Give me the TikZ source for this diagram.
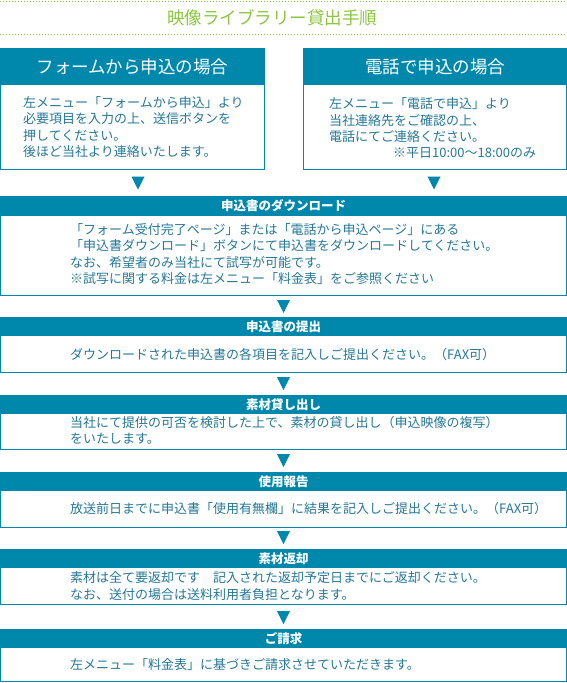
\documentclass[tikz,border=0pt]{standalone}
\usepackage{fontspec}
\setmainfont{Noto Sans CJK JP}
\usetikzlibrary{calc}
\definecolor{hd}{RGB}{0,136,172}
\definecolor{tx}{RGB}{38,120,150}
\definecolor{gr}{RGB}{140,198,63}
\tikzset{
  bodybox/.style={draw=hd, line width=1pt, fill=white, inner sep=0pt, outer sep=0pt},
  hdr/.style={fill=hd, text=white, inner sep=0pt, outer sep=0pt, font=\bfseries\fontsize{12.5}{14}\selectfont},
  bighdr/.style={fill=hd, text=white, inner sep=0pt, outer sep=0pt, font=\fontsize{17.5}{20}\selectfont},
  body/.style={text=tx, anchor=base west, align=left, inner sep=0pt, font=\fontsize{13}{16.5}\selectfont},
  tri/.style={fill=hd},
  dotline/.style={draw=gr, line width=1pt, dash pattern=on 1pt off 2pt}
}
\newcommand{\downtri}[1]{\fill[tri] ($(#1)+(-6.5,0)$) -- ($(#1)+(6.5,0)$) -- ($(#1)+(0,13)$) -- cycle;}
\begin{document}
\begin{tikzpicture}[x=1pt,y=-1pt]
\useasboundingbox (0,0) rectangle (567,683);
% title
\draw[dotline] (0,1) -- (567,1);
\draw[dotline] (0,34.5) -- (567,34.5);
\node[text=gr, inner sep=0pt, font=\fontsize{17.5}{20}\selectfont] (title) at (272,18) {映像ライブラリー貸出手順};

% top left box (base anchor = last line baseline)
\node[bodybox, minimum width=264pt, minimum height=121pt] (b1) at (132.5,109) {};
\node[bighdr, minimum width=265pt, minimum height=37pt] (h1) at (132.5,66.5) {フォームから申込の場合};
\node[body] (t1) at (23,156.5) {左メニュー「フォームから申込」より\\必要項目を入力の上、送信ボタンを\\押してください。\\後ほど当社より連絡いたします。};

% top right box
\node[bodybox, minimum width=263pt, minimum height=121pt] (b2) at (435,109) {};
\node[bighdr, minimum width=264pt, minimum height=37pt] (h2) at (435,66.5) {電話で申込の場合};
\node[body] (t2) at (329,141.5) {左メニュー「電話で申込」より\\当社連絡先をご確認の上、\\電話にてご連絡ください。};
\node[body] (t2b) at (393,157.5) {※平日10:00～18:00のみ};

\coordinate (a1) at (138,176.5);
\coordinate (a2) at (434,176.5);
\downtri{a1}
\downtri{a2}

% download
\node[bodybox, minimum width=566pt, minimum height=99pt] (b3) at (283.5,245.5) {};
\node[hdr, minimum width=567pt, minimum height=19.5pt] (h3) at (283.5,205.75) {申込書のダウンロード};
\node[body] (t3) at (70,283.5) {「フォーム受付完了ページ」または「電話から申込ページ」にある\\「申込書ダウンロード」ボタンにて申込書をダウンロードしてください。\\なお、希望者のみ当社にて試写が可能です。\\※試写に関する料金は左メニュー「料金表」をご参照ください};

\coordinate (a3) at (283.5,300);
\downtri{a3}

% submit
\node[bodybox, minimum width=566pt, minimum height=55pt] (b4) at (283.5,344.5) {};
\node[hdr, minimum width=567pt, minimum height=19pt] (h4) at (283.5,326.5) {申込書の提出};
\node[body] (t4) at (70,359.5) {ダウンロードされた申込書の各項目を記入しご提出ください。（FAX可）};

\coordinate (a4) at (283.5,377);
\downtri{a4}

% lending
\node[bodybox, minimum width=566pt, minimum height=54pt] (b5) at (283.5,422) {};
\node[hdr, minimum width=567pt, minimum height=18.5pt] (h5) at (283.5,404.25) {素材貸し出し};
\node[body] (t5) at (70,443.5) {当社にて提供の可否を検討した上で、素材の貸し出し（申込映像の複写）\\をいたします。};

\coordinate (a5) at (283.5,454);
\downtri{a5}

% report
\node[bodybox, minimum width=566pt, minimum height=55pt] (b6) at (283.5,499.5) {};
\node[hdr, minimum width=567pt, minimum height=19pt] (h6) at (283.5,481.5) {使用報告};
\node[body] (t6) at (70,513.5) {放送前日までに申込書「使用有無欄」に結果を記入しご提出ください。（FAX可）};

\coordinate (a6) at (283.5,531);
\downtri{a6}

% return
\node[bodybox, minimum width=566pt, minimum height=55pt] (b7) at (283.5,576.5) {};
\node[hdr, minimum width=567pt, minimum height=18.5pt] (h7) at (283.5,558.25) {素材返却};
\node[body] (t7) at (70,599) {素材は全て要返却です　記入された返却予定日までにご返却ください。\\なお、送付の場合は送料利用者負担となります。};

\coordinate (a7) at (283.5,611);
\downtri{a7}

% billing
\node[bodybox, minimum width=566pt, minimum height=52pt] (b8) at (283.5,655) {};
\node[hdr, minimum width=567pt, minimum height=18.5pt] (h8) at (283.5,638.25) {ご請求};
\node[body] (t8) at (70,669.5) {左メニュー「料金表」に基づきご請求させていただきます。};
\end{tikzpicture}
\end{document}
